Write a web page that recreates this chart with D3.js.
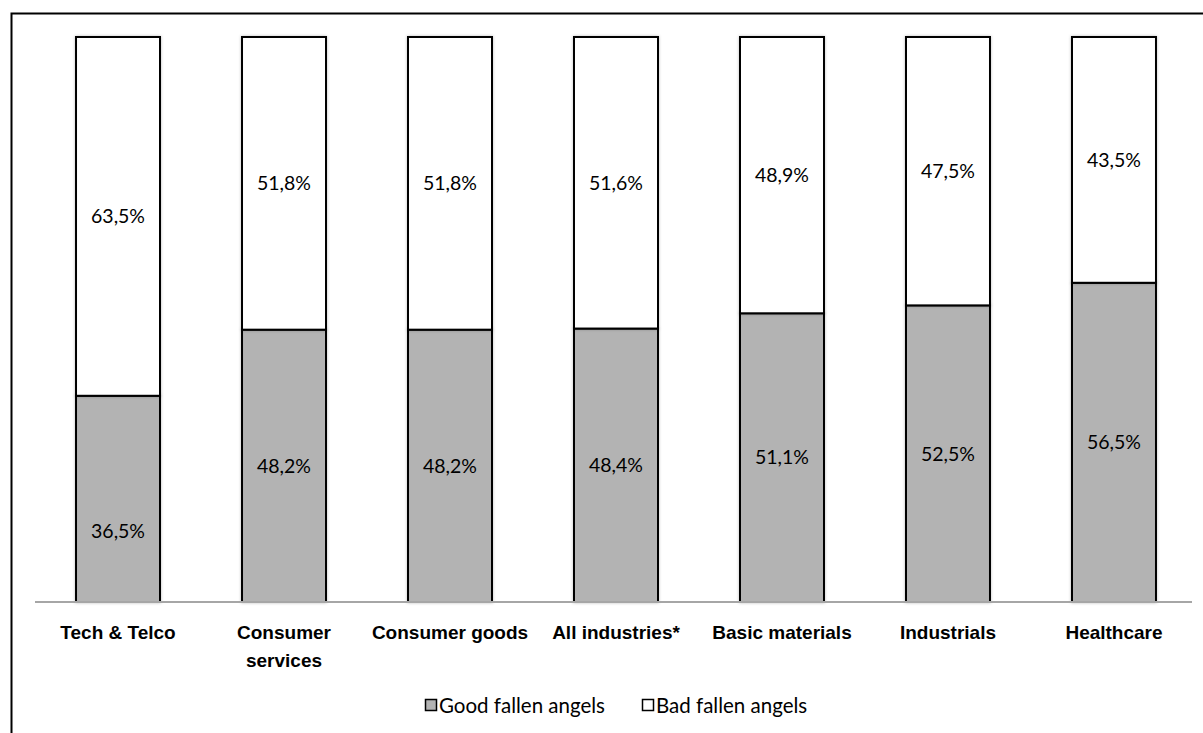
<!DOCTYPE html>
<html>
<head>
<meta charset="utf-8">
<script src="https://cdn.jsdelivr.net/npm/d3@7"></script>
<style>
  html, body { margin: 0; padding: 0; background: #fff; }
  svg { display: block; font-family: Lato, "Open Sans", sans-serif; }
</style>
</head>
<body>
<svg id="chart" width="1203" height="733"></svg>
<script>
// Share of fallen angels by industry (percent)
const categories = ["Tech & Telco", "Consumer services", "Consumer goods", "All industries*", "Basic materials", "Industrials", "Healthcare"];
const categoryLines = [["Tech & Telco"], ["Consumer", "services"], ["Consumer goods"], ["All industries*"], ["Basic materials"], ["Industrials"], ["Healthcare"]];
const goodValues = [36.5, 48.2, 48.2, 48.4, 51.1, 52.5, 56.5];
const badValues  = [63.5, 51.8, 51.8, 51.6, 48.9, 47.5, 43.5];
const seriesNames = ["Good fallen angels", "Bad fallen angels"];
const seriesColors = ["#b3b3b3", "#ffffff"];

const svg = d3.select("#chart");

// outer chart frame
svg.append("rect")
  .attr("x", 11.5).attr("y", 13.5)
  .attr("width", 1220).attr("height", 760)
  .attr("fill", "none").attr("stroke", "#000").attr("stroke-width", 2);

const plot = { left: 35, right: 1192, top: 37, bottom: 602 };

const x = d3.scaleBand()
  .domain(categories)
  .range([40, plot.right])
  .paddingInner(0.494)
  .paddingOuter(0.217);

const y = d3.scaleLinear().domain([0, 100]).range([plot.bottom, plot.top]);

const rows = categories.map((c, i) => ({ cat: c, good: goodValues[i], bad: badValues[i] }));
const stacked = d3.stack().keys(["good", "bad"])(rows);

const defs = svg.append("defs");
const f = defs.append("filter").attr("id", "shadow").attr("x", "-10%").attr("y", "-10%").attr("width", "120%").attr("height", "120%");
f.append("feDropShadow").attr("dx", 0).attr("dy", 0).attr("stdDeviation", 1.5).attr("flood-color", "#000").attr("flood-opacity", 0.25);

const layers = svg.append("g").selectAll("g.layer")
  .data(stacked).join("g").attr("class", "layer")
  .attr("fill", (d, i) => seriesColors[i]);

layers.selectAll("rect")
  .data(d => d.map(p => ({ p, key: d.key })))
  .join("rect")
  .attr("x", d => x(d.p.data.cat))
  .attr("width", x.bandwidth())
  .attr("y", d => y(d.p[1]))
  .attr("height", d => y(d.p[0]) - y(d.p[1]))
  .attr("stroke", "#000")
  .attr("stroke-width", 2)
  .attr("filter", "url(#shadow)");

// value labels; the short Tech & Telco label sits lower in its segment
const fmt = v => v.toFixed(1).replace(".", ",") + "%";
const labelShift = (d, i) => (d.key === "good" && i === 0 ? 32 : 0);
layers.selectAll("text")
  .data(d => d.map(p => ({ p, key: d.key })))
  .join("text")
  .attr("x", d => x(d.p.data.cat) + x.bandwidth() / 2)
  .attr("y", (d, i) => (y(d.p[0]) + y(d.p[1])) / 2 + labelShift(d, i))
  .attr("dy", "0.35em")
  .attr("text-anchor", "middle")
  .attr("fill", "#000")
  .attr("font-size", 19.5)
  .text(d => fmt(d.p[1] - d.p[0]));

// category axis
const axis = svg.append("g")
  .attr("transform", `translate(0,${plot.bottom})`)
  .call(d3.axisBottom(x).tickSize(0).tickFormat(""));
axis.select(".domain").attr("stroke", "#a6a6a6").attr("stroke-width", 2)
  .attr("d", `M${plot.left},0H${plot.right}`);

axis.selectAll(".tick").each(function(d, i) {
  const t = d3.select(this).append("text")
    .attr("fill", "#000")
    .attr("font-size", 19)
    .attr("font-weight", "bold")
    .attr("text-anchor", "middle")
    .attr("y", 37);
  categoryLines[i].forEach((line, j) => {
    t.append("tspan").attr("x", 0).attr("dy", j === 0 ? 0 : 28).text(line);
  });
});

// legend
const legendItems = [{ x: 425 }, { x: 642 }];
const legend = svg.append("g").attr("transform", "translate(0,706)");
seriesNames.forEach((name, i) => {
  const g = legend.append("g").attr("transform", `translate(${legendItems[i].x},0)`);
  g.append("rect").attr("x", 0.5).attr("y", -6.5).attr("width", 11).attr("height", 11)
    .attr("fill", seriesColors[i]).attr("stroke", "#000").attr("stroke-width", 1.5);
  g.append("text").attr("x", 14).attr("dy", "0.35em").attr("font-size", 20.5).attr("fill", "#000").text(name);
});
</script>
</body>
</html>
